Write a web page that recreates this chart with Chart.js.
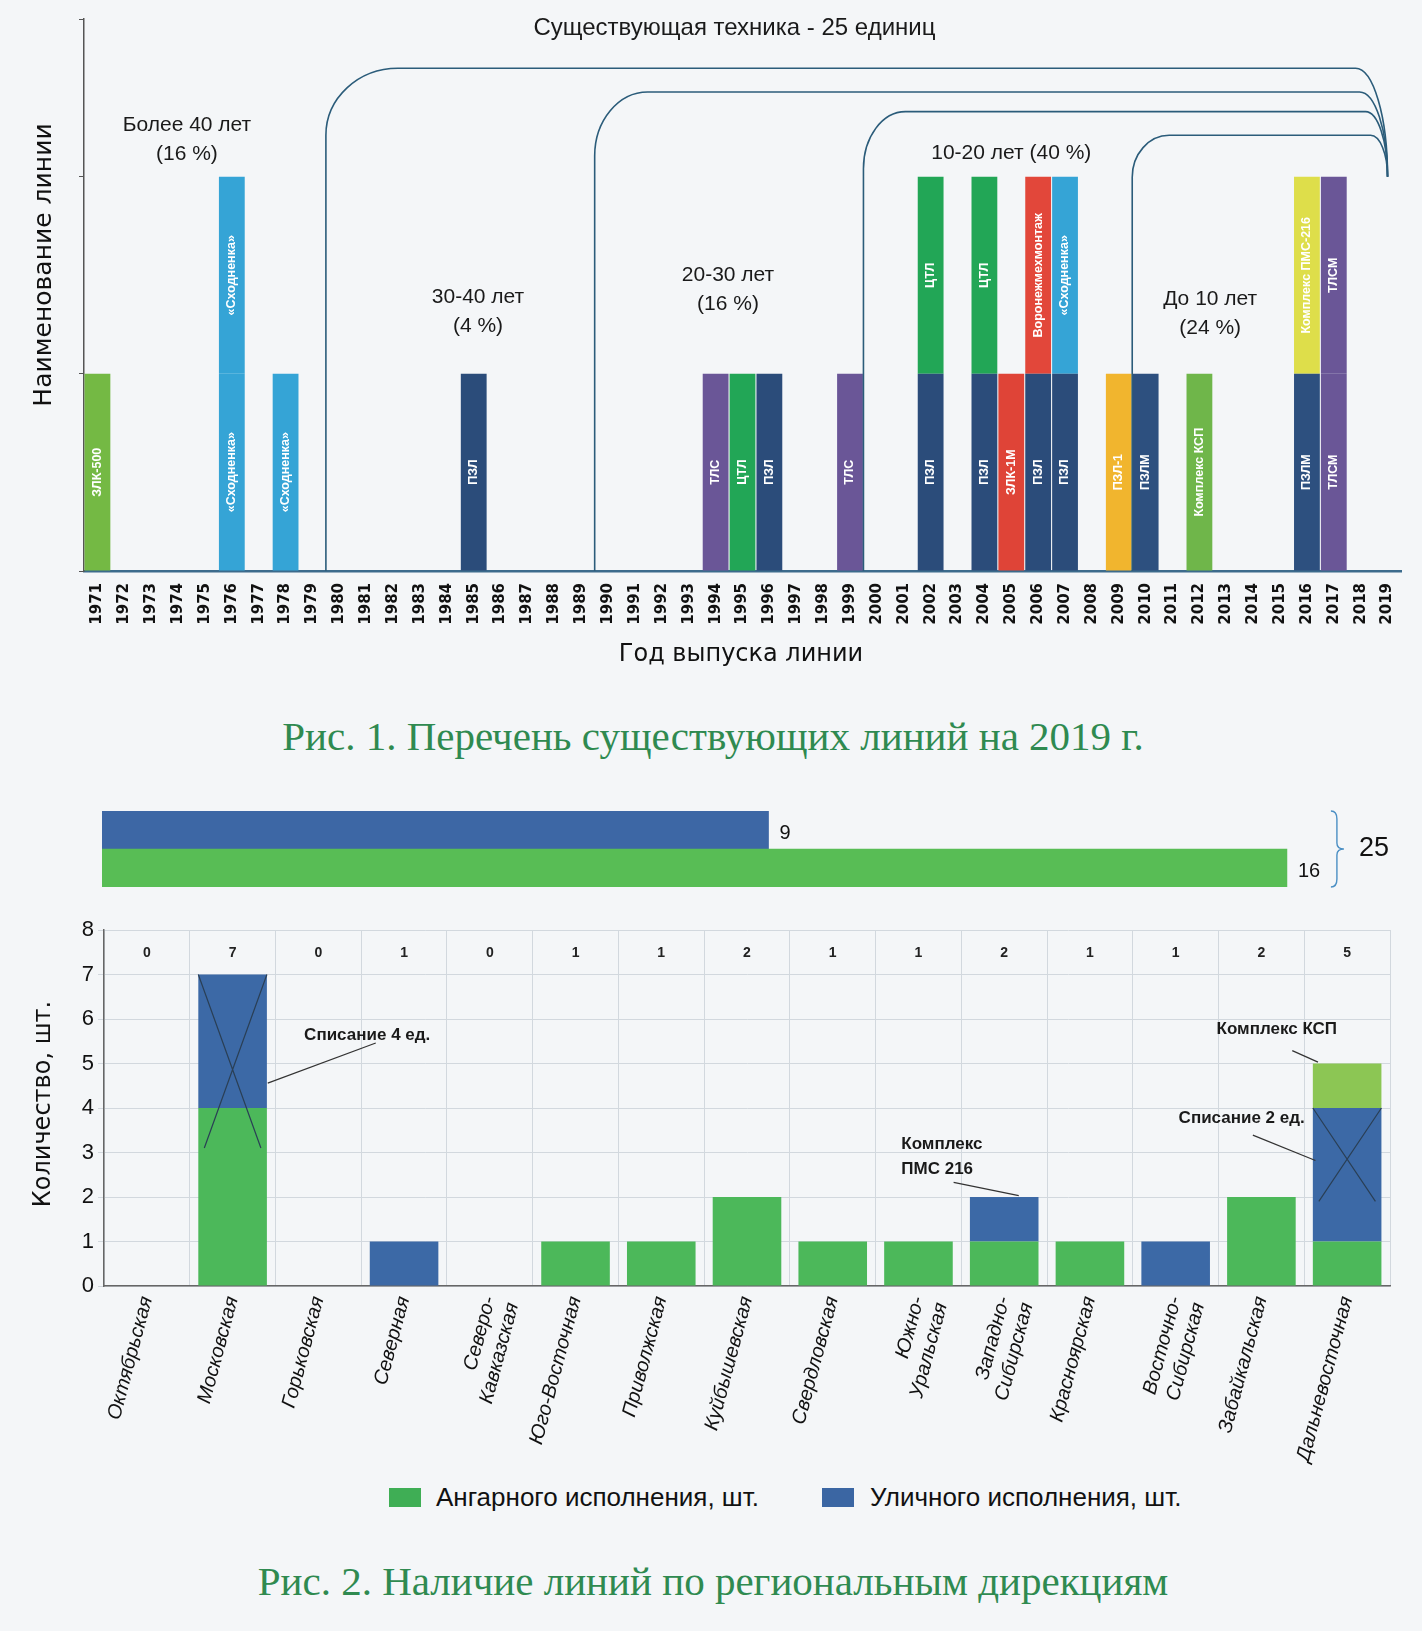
<!DOCTYPE html>
<html><head><meta charset="utf-8">
<script src="https://cdn.jsdelivr.net/npm/chart.js@4.4.1/dist/chart.umd.min.js"></script>
<style>
body{margin:0;background:#f4f6f8;width:1422px;height:1631px;position:relative;overflow:hidden;font-family:"Liberation Sans",Arial,sans-serif;}
canvas{position:absolute;left:0;}
.cap{position:absolute;left:0;width:1426px;text-align:center;font-family:"Liberation Serif","DejaVu Serif",serif;color:#2f8a50;font-size:41px;line-height:44px;}
.leg{position:absolute;font-size:26px;line-height:28px;color:#111;}
.box{position:absolute;width:32px;height:19px;}
</style></head><body>
<canvas id="c1" width="1422" height="690" style="top:0"></canvas>
<div class="cap" style="top:714px">Рис. 1. Перечень существующих линий на 2019 г.</div>
<canvas id="c3" width="1422" height="110" style="top:795px"></canvas>
<canvas id="c2" width="1422" height="580" style="top:895px"></canvas>
<div class="box" style="left:389px;top:1488px;background:#3fae55"></div>
<div class="leg" style="left:436px;top:1483px">Ангарного исполнения, шт.</div>
<div class="box" style="left:822px;top:1488px;background:#3b66a3"></div>
<div class="leg" style="left:870px;top:1483px">Уличного исполнения, шт.</div>
<div class="cap" style="top:1559px">Рис. 2. Наличие линий по региональным дирекциям</div>
<script>
// ---------- Figure 1 data ----------
const years = ['1971','1972','1973','1974','1975','1976','1977','1978','1979','1980',
 '1981','1982','1983','1984','1985','1986','1987','1988','1989','1990',
 '1991','1992','1993','1994','1995','1996','1997','1998','1999','2000',
 '2001','2002','2003','2004','2005','2006','2007','2008','2009','2010',
 '2011','2012','2013','2014','2015','2016','2017','2018','2019'];
const lowerUnits = [1,0,0,0,0,1,0,1,0,0, 0,0,0,0,1,0,0,0,0,0, 0,0,0,1,1,1,0,0,1,0, 0,1,0,1,1,1,1,0,1,1, 0,1,0,0,0,1,1,0,0];
const upperUnits = [0,0,0,0,0,1,0,0,0,0, 0,0,0,0,0,0,0,0,0,0, 0,0,0,0,0,0,0,0,0,0, 0,1,0,1,0,1,1,0,0,0, 0,0,0,0,0,1,1,0,0];
const lowerNames = ['ЗЛК-500','','','','','«Сходненка»','','«Сходненка»','','',
 '','','','','ПЗЛ','','','','','',
 '','','','ТЛС','ЦТЛ','ПЗЛ','','','ТЛС','',
 '','ПЗЛ','','ПЗЛ','ЗЛК-1М','ПЗЛ','ПЗЛ','','ПЗЛ-1','ПЗЛМ',
 '','Комплекс КСП','','','','ПЗЛМ','ТЛСМ','',''];
const upperNames = ['','','','','','«Сходненка»','','','','',
 '','','','','','','','','','',
 '','','','','','','','','','',
 '','ЦТЛ','','ЦТЛ','','Воронежмехмонтаж','«Сходненка»','','','',
 '','','','','','Комплекс ПМС-216','ТЛСМ','',''];
const groupLabels = [
 {text:['Более 40 лет','(16 %)'], at:3.33, level:2.26, size:21},
 {text:['30-40 лет','(4 %)'], at:14.16, level:1.39, size:21},
 {text:['20-30 лет','(16 %)'], at:23.46, level:1.50, size:21},
 {text:['10-20 лет (40 %)'], at:34.0, level:2.12, size:21},
 {text:['До 10 лет','(24 %)'], at:41.4, level:1.38, size:21},
 {text:['Существующая техника - 25 единиц'], at:23.7, level:2.75, size:24}
];
// bracket groups: start boundary (category index), top level
const brackets = [
 {start:8.5, top:2.55, rxL:72, ryL:67, rxR:32},
 {start:18.5, top:2.43, rxL:53, ryL:64, rxR:28},
 {start:28.5, top:2.33, rxL:42, ryL:57, rxR:22},
 {start:38.5, top:2.21, rxL:37, ryL:42, rxR:17}
];
const bracketEndIndex = 48, bracketEndLevel = 2.0;

// ---------- Figure 2 data ----------
const summaryCats = ['Уличного исполнения','Ангарного исполнения'];
const summaryValues = [9,16];
const summaryTotal = 25;
const regions = ['Октябрьская','Московская','Горьковская','Северная',['Северо-','Кавказская'],
 'Юго-Восточная','Приволжская','Куйбышевская','Свердловская',['Южно-','Уральская'],
 ['Западно-','Сибирская'],'Красноярская',['Восточно-','Сибирская'],'Забайкальская','Дальневосточная'];
const hangar  = [0,4,0,0,0,1,1,2,1,1,1,1,0,2,1];
const outdoor = [0,3,0,1,0,0,0,0,0,0,1,0,1,0,3];
const ksp     = [0,0,0,0,0,0,0,0,0,0,0,0,0,0,1];
const crosses = [{i:1, top:7, bottom:3.1},{i:14, top:4, bottom:1.9}];
const notes = [
 {lines:['Списание 4 ед.'], x:2.57, y:5.64, align:'center', from:[1.41,4.56], to:[2.67,5.46]},
 {lines:['Комплекс','ПМС 216'], x:8.8, y:3.19, align:'left', from:[9.41,2.33], to:[10.17,2.03]},
 {lines:['Комплекс КСП'], x:13.18, y:5.76, align:'center', from:[13.36,5.29], to:[13.66,5.03]},
 {lines:['Списание 2 ед.'], x:12.77, y:3.77, align:'center', from:[12.9,3.39], to:[13.63,2.82]}
];

// ---------- styles ----------
const palette = {
 'ЗЛК-500':'#74b944','«Сходненка»':'#35a4d6','ПЗЛ':'#2b4c7a','ТЛС':'#6a5697','ЦТЛ':'#22a656',
 'ЗЛК-1М':'#df4437','Воронежмехмонтаж':'#e2473a','ПЗЛ-1':'#f1b52e','ПЗЛМ':'#2d507f',
 'Комплекс КСП':'#6fb64a','Комплекс ПМС-216':'#dede4a','ТЛСМ':'#6a5697'
};
const col = n => palette[n] || 'rgba(0,0,0,0)';
const SANS = '"Liberation Sans", Arial, sans-serif';
Chart.defaults.animation = false;
Chart.defaults.events = [];
Chart.defaults.color = '#111';

// ---------- Chart 1 ----------
const fig1Plugin = {
 id:'fig1',
 afterDatasetsDraw(chart){
  const {ctx, chartArea:ca, scales:{x,y}} = chart;
  [[0,lowerNames],[1,upperNames]].forEach(([di,names])=>{
   chart.getDatasetMeta(di).data.forEach((el,i)=>{
    const name = names[i]; if(!name) return;
    const p = el.getProps(['x','y','base'],true);
    const h = Math.abs(p.base-p.y);
    ctx.save(); ctx.translate(p.x,(p.y+p.base)/2); ctx.rotate(-Math.PI/2);
    let fs = 12.5; ctx.font = 'bold '+fs+'px '+SANS;
    const w = ctx.measureText(name).width;
    if (w > h-14){ fs = fs*(h-14)/w; ctx.font = 'bold '+fs.toFixed(1)+'px '+SANS; }
    ctx.fillStyle='#fff'; ctx.textAlign='center'; ctx.textBaseline='middle';
    ctx.fillText(name,0,0); ctx.restore();
   });
  });
  ctx.save(); ctx.strokeStyle='#2b5c7a'; ctx.lineWidth=1.6;
  const xr = x.getPixelForValue(bracketEndIndex), yEnd = y.getPixelForValue(bracketEndLevel);
  brackets.forEach(b=>{
   const xl = x.getPixelForValue(b.start), yt = y.getPixelForValue(b.top);
   ctx.beginPath(); ctx.moveTo(xl, ca.bottom); ctx.lineTo(xl, yt+b.ryL);
   ctx.ellipse(xl+b.rxL, yt+b.ryL, b.rxL, b.ryL, 0, Math.PI, 1.5*Math.PI);
   ctx.lineTo(xr-b.rxR, yt);
   ctx.ellipse(xr-b.rxR, yEnd, b.rxR, yEnd-yt, 0, 1.5*Math.PI, 2*Math.PI);
   ctx.stroke();
  });
  ctx.restore();
  ctx.save(); ctx.fillStyle='#1a1a1a'; ctx.textAlign='center'; ctx.textBaseline='middle';
  groupLabels.forEach(g=>{
   ctx.font = g.size+'px '+SANS;
   const px = x.getPixelForValue(g.at), py = y.getPixelForValue(g.level);
   g.text.forEach((t,k)=>ctx.fillText(t, px, py+k*29));
  });
  ctx.restore();
  ctx.save(); ctx.fillStyle='#111'; ctx.textAlign='center'; ctx.textBaseline='middle';
  ctx.font='24px "DejaVu Sans", sans-serif';
  ctx.fillText('Год выпуска линии', 741, 655);
  ctx.translate(44, 265); ctx.rotate(-Math.PI/2);
  ctx.font='25px "DejaVu Sans", sans-serif';
  ctx.fillText('Наименование линии', 0, 0);
  ctx.restore();
 }
};
new Chart(document.getElementById('c1'), {
 type:'bar',
 data:{labels:years, datasets:[
  {data:lowerUnits, backgroundColor:lowerNames.map(col), stack:'s'},
  {data:upperUnits, backgroundColor:upperNames.map(col), stack:'s'}
 ]},
 options:{
  responsive:false,
  layout:{padding:{left:0,top:19,right:21,bottom:0}},
  datasets:{bar:{barPercentage:1, categoryPercentage:0.96, borderWidth:0}},
  plugins:{legend:{display:false}, tooltip:{enabled:false}},
  scales:{
   x:{stacked:true, grid:{display:false, drawTicks:false},
      border:{display:true, color:'#3c6b8c', width:2.5},
      ticks:{autoSkip:false, minRotation:90, maxRotation:90, padding:12, color:'#111',
             font:{family:'"DejaVu Sans", sans-serif', size:15, weight:'bold'}},
      afterFit(s){ s.height = 690-571; }},
   y:{stacked:true, min:0, max:2.8, ticks:{stepSize:1, callback:()=>''},
      grid:{drawOnChartArea:false, drawTicks:true, tickLength:5, color:'#555'},
      border:{display:true, color:'#555', width:1.5},
      afterFit(s){ s.width = 84; }}
  }
 },
 plugins:[fig1Plugin]
});

// ---------- Chart 3 (summary bars) ----------
const sumPlugin = {
 id:'sum',
 afterDatasetsDraw(chart){
  const {ctx, scales:{x}} = chart;
  const meta = chart.getDatasetMeta(0);
  ctx.save(); ctx.fillStyle='#111'; ctx.font='20px '+SANS; ctx.textBaseline='middle';
  meta.data.forEach((el,i)=>{ ctx.fillText(String(summaryValues[i]), el.x+11, el.y+3); });
  const top = meta.data[0].y - meta.data[0].height/2, bot = meta.data[1].y + meta.data[1].height/2;
  const bx = x.getPixelForValue(summaryValues[1]) + 50, mid = (top+bot)/2;
  ctx.strokeStyle='#4b8fc4'; ctx.lineWidth=1.4; ctx.beginPath();
  ctx.moveTo(bx-6, top); ctx.quadraticCurveTo(bx, top, bx, top+8); ctx.lineTo(bx, mid-6);
  ctx.quadraticCurveTo(bx, mid, bx+7, mid); ctx.quadraticCurveTo(bx, mid, bx, mid+6);
  ctx.lineTo(bx, bot-8); ctx.quadraticCurveTo(bx, bot, bx-6, bot); ctx.stroke();
  ctx.font='27px '+SANS; ctx.fillText(String(summaryTotal), bx+22, mid);
  ctx.restore();
 }
};
new Chart(document.getElementById('c3'), {
 type:'bar',
 data:{labels:summaryCats, datasets:[{data:summaryValues, backgroundColor:['#3d67a5','#58bd55'], borderWidth:0}]},
 options:{
  responsive:false, indexAxis:'y',
  layout:{padding:{left:102,top:16,right:24,bottom:18}},
  datasets:{bar:{barPercentage:1, categoryPercentage:1}},
  plugins:{legend:{display:false}, tooltip:{enabled:false}},
  scales:{x:{display:false, min:0, max:17.5}, y:{display:false}}
 },
 plugins:[sumPlugin]
});

// ---------- Chart 2 ----------
const fig2Plugin = {
 id:'fig2',
 afterDatasetsDraw(chart){
  const {ctx, chartArea:ca, scales:{x,y}} = chart;
  ctx.save(); ctx.fillStyle='#222'; ctx.font='bold 14px '+SANS; ctx.textAlign='center'; ctx.textBaseline='middle';
  regions.forEach((r,i)=>{ ctx.fillText(String(hangar[i]+outdoor[i]+ksp[i]), x.getPixelForValue(i), y.getPixelForValue(7.48)); });
  ctx.restore();
  const meta = chart.getDatasetMeta(1);
  ctx.save(); ctx.strokeStyle='#2a3f55'; ctx.lineWidth=1.2;
  crosses.forEach(c=>{
   const el = meta.data[c.i]; const p = el.getProps(['x','width'],true);
   const l = p.x-p.width/2, r = p.x+p.width/2, t = y.getPixelForValue(c.top), b = y.getPixelForValue(c.bottom);
   ctx.beginPath(); ctx.moveTo(l,t); ctx.lineTo(r-6,b); ctx.moveTo(r,t); ctx.lineTo(l+6,b); ctx.stroke();
  });
  ctx.restore();
  ctx.save(); ctx.font='bold 17px '+SANS; ctx.fillStyle='#1a1a1a'; ctx.textBaseline='middle';
  ctx.strokeStyle='#333'; ctx.lineWidth=1.2;
  notes.forEach(n=>{
   ctx.textAlign = n.align;
   const px = x.getPixelForValue(n.x), py = y.getPixelForValue(n.y);
   n.lines.forEach((t,k)=>ctx.fillText(t, px, py+k*25));
   ctx.beginPath(); ctx.moveTo(x.getPixelForValue(n.from[0]), y.getPixelForValue(n.from[1]));
   ctx.lineTo(x.getPixelForValue(n.to[0]), y.getPixelForValue(n.to[1])); ctx.stroke();
  });
  ctx.restore();
  ctx.save(); ctx.fillStyle='#111'; ctx.textAlign='center'; ctx.textBaseline='middle';
  ctx.translate(44, (ca.top+ca.bottom)/2 - 4); ctx.rotate(-Math.PI/2);
  ctx.font='24px "DejaVu Sans", sans-serif'; ctx.fillText('Количество, шт.', 0, 0);
  ctx.restore();
 }
};
new Chart(document.getElementById('c2'), {
 type:'bar',
 data:{labels:regions, datasets:[
  {label:'Ангарного исполнения, шт.', data:hangar, backgroundColor:'#4cb85a'},
  {label:'Уличного исполнения, шт.', data:outdoor, backgroundColor:'#3c69a6'},
  {label:'Комплекс КСП', data:ksp, backgroundColor:'#8cc654'}
 ]},
 options:{
  responsive:false,
  layout:{padding:{left:0,top:35,right:32,bottom:0}},
  datasets:{bar:{barPercentage:0.8, categoryPercentage:1, borderWidth:0}},
  plugins:{legend:{display:false}, tooltip:{enabled:false}},
  scales:{
   x:{stacked:true, grid:{color:'#d2d8de', drawTicks:false, offset:true},
      border:{display:true, color:'#666', width:1.5},
      ticks:{autoSkip:false, minRotation:75, maxRotation:75, padding:8, color:'#111',
             font:{family:SANS, size:20, style:'italic'}},
      afterFit(s){ s.height = 580-391; }},
   y:{stacked:true, min:0, max:8, ticks:{stepSize:1, padding:4, color:'#111', font:{family:SANS, size:22}},
      grid:{color:'#d2d8de', tickLength:6},
      border:{display:true, color:'#666', width:1.5},
      afterFit(s){ s.width = 104; }}
  }
 },
 plugins:[fig2Plugin]
});
</script>
</body></html>
